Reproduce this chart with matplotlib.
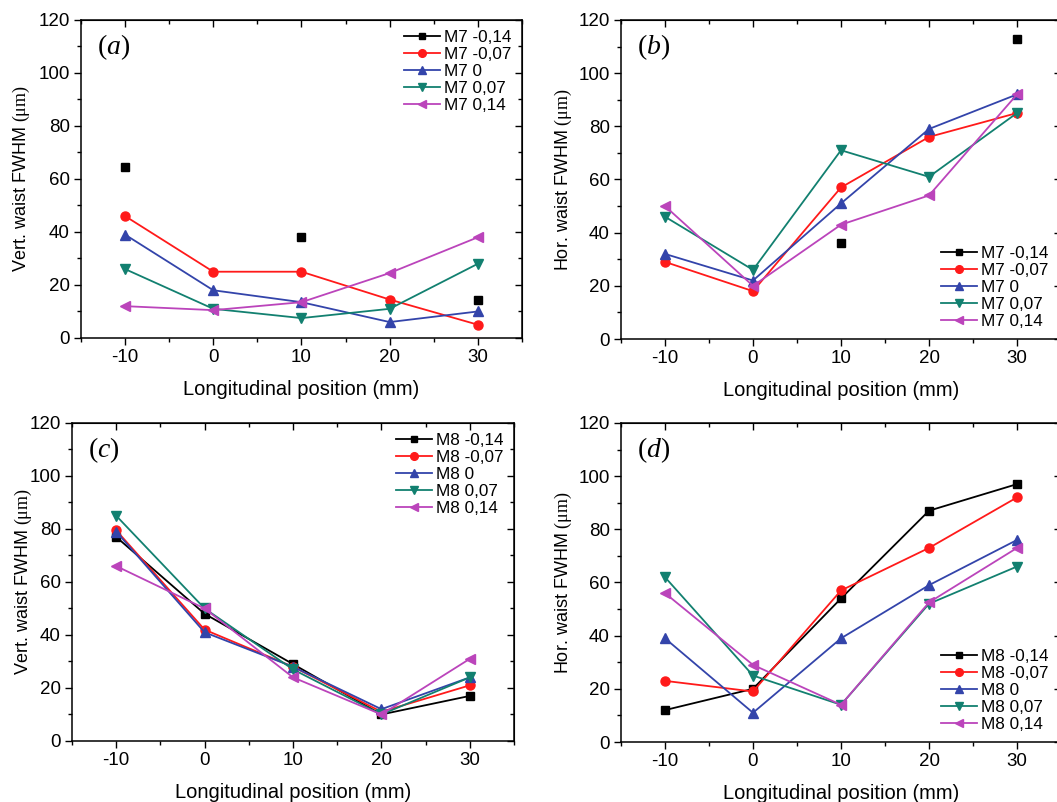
import matplotlib
matplotlib.use("Agg")
import matplotlib.pyplot as plt
import numpy as np
from matplotlib.ticker import MultipleLocator

plt.rcParams['font.family'] = ['Liberation Sans', 'DejaVu Sans']
plt.rcParams['mathtext.fontset'] = 'custom'
plt.rcParams['mathtext.rm'] = 'Liberation Serif'
plt.rcParams['mathtext.it'] = 'Liberation Serif:italic'
plt.rcParams['axes.unicode_minus'] = False

nan = np.nan
positions = [-10, 0, 10, 20, 30]

# panel (a): M7 vertical waist
a_m014 = [64.5, nan, 38, nan, 14.5]
a_m007 = [46, 25, 25, 14.5, 5]
a_0 = [39, 18, 13.5, 6, 10]
a_p007 = [26, 11, 7.5, 11, 28]
a_p014 = [12, 10.5, 13.5, 24.5, 38]

# panel (b): M7 horizontal waist
b_m014 = [nan, nan, 36, nan, 113]
b_m007 = [29, 18, 57, 76, 85]
b_0 = [32, 22, 51, 79, 92]
b_p007 = [46, 26, 71, 61, 85]
b_p014 = [50, 20, 43, 54, 92]

# panel (c): M8 vertical waist
c_m014 = [77, 48, 29, 10, 17]
c_m007 = [79.5, 42, 28, 11, 21]
c_0 = [79, 41, 28, 12, 24]
c_p007 = [85, 50, 27, 10, 24]
c_p014 = [66, 50, 24, 10, 31]

# panel (d): M8 horizontal waist
d_m014 = [12, 20, 54, 87, 97]
d_m007 = [23, 19, 57, 73, 92]
d_0 = [39, 11, 39, 59, 76]
d_p007 = [62, 25, 14, 52, 66]
d_p014 = [56, 29, 14, 52.5, 73]

suffixes = ["-0,14", "-0,07", "0", "0,07", "0,14"]
colors = ["#000000", "#ff1a1a", "#3344aa", "#128070", "#bb44bb"]
markers = ["s", "o", "^", "v", "<"]
msizes = [5.3, 6.5, 6.8, 6.8, 6.8]

panels = [
    ("a", "M7", "Vert.", [a_m014, a_m007, a_0, a_p007, a_p014], [0.0766, 0.5786, 0.4172, 0.3965], "upper right", 5),
    ("b", "M7", "Hor.", [b_m014, b_m007, b_0, b_p007, b_p014], [0.5875, 0.5773, 0.4163, 0.3978], "lower right", 3.5),
    ("c", "M8", "Vert.", [c_m014, c_m007, c_0, c_p007, c_p014], [0.0681, 0.0761, 0.4182, 0.3965], "upper right", -3),
    ("d", "M8", "Hor.", [d_m014, d_m007, d_0, d_p007, d_p014], [0.5875, 0.0748, 0.4163, 0.3978], "lower right", 3.5),
]

fig = plt.figure(figsize=(10.57, 8.02), dpi=100)

for tag, mirror, kind, series, rect, legloc, ypad in panels:
    ax = fig.add_axes(rect)
    for vals, suf, col, mk, ms in zip(series, suffixes, colors, markers, msizes):
        ax.plot(positions, vals, color=col, marker=mk, markersize=ms, lw=1.3,
                label=f"{mirror} {suf}")
    ax.set_xlim(-15, 35)
    ax.set_ylim(0, 120)
    ax.xaxis.set_major_locator(MultipleLocator(10))
    ax.xaxis.set_minor_locator(MultipleLocator(5))
    ax.yaxis.set_major_locator(MultipleLocator(20))
    ax.yaxis.set_minor_locator(MultipleLocator(10))
    ax.tick_params(which='major', direction='out', length=5, width=1, labelsize=13.5, pad=3)
    ax.tick_params(which='minor', direction='out', length=3, width=1)
    for s in ax.spines.values():
        s.set_linewidth(1.1)

    top = ax.secondary_xaxis('top')
    top.xaxis.set_major_locator(MultipleLocator(10))
    top.xaxis.set_minor_locator(MultipleLocator(5))
    top.tick_params(which='major', direction='in', length=5, width=1, labeltop=False)
    top.tick_params(which='minor', direction='in', length=3, width=1)
    right = ax.secondary_yaxis('right')
    right.yaxis.set_major_locator(MultipleLocator(20))
    right.yaxis.set_minor_locator(MultipleLocator(10))
    right.tick_params(which='major', direction='in', length=5, width=1, labelright=False)
    right.tick_params(which='minor', direction='in', length=3, width=1)

    ax.set_xlabel("Longitudinal position (mm)", fontsize=14.5, labelpad=10)
    ax.set_ylabel(kind + r" waist FWHM $\mathrm{(\mu m)}$", fontsize=13, labelpad=ypad)
    ax.text(0.036, 0.915, "$(\\mathit{" + tag + "})$", transform=ax.transAxes,
            fontsize=20, va='center', ha='left')

    if legloc == "upper right":
        leg = ax.legend(loc='upper right', bbox_to_anchor=(1.0, 1.0), frameon=False, fontsize=12.3,
                        labelspacing=0.12, handlelength=2.1, handletextpad=0.25, borderaxespad=0.2,
                        markerscale=0.85)
    else:
        leg = ax.legend(loc='lower right', bbox_to_anchor=(0.995, 0.0), frameon=False, fontsize=12.3,
                        labelspacing=0.12, handlelength=2.1, handletextpad=0.25, borderaxespad=0.2,
                        markerscale=0.85)

fig.savefig("out.png", dpi=100)
